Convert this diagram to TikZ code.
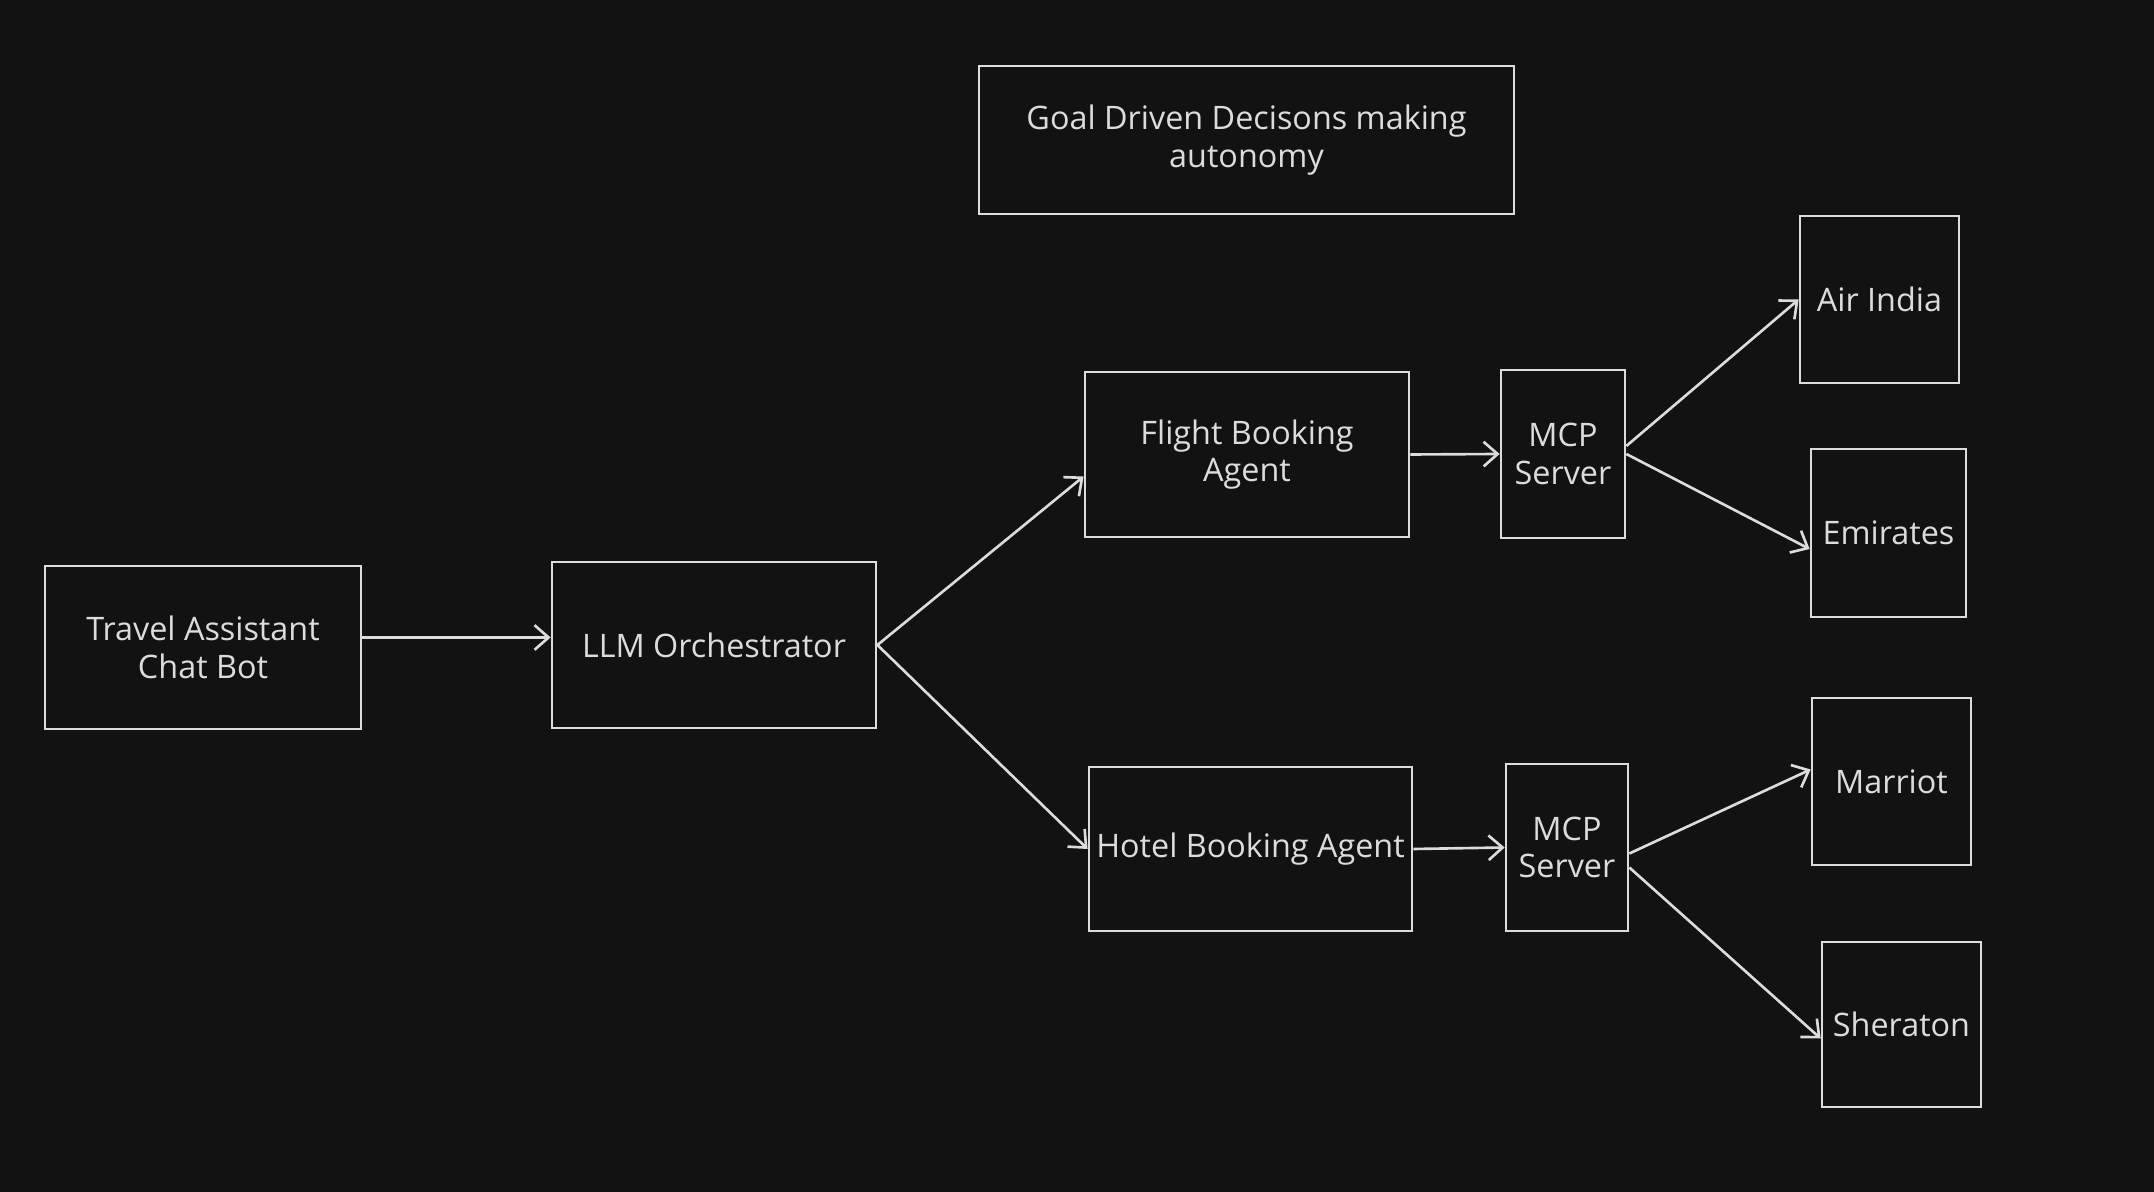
\documentclass[tikz,border=0pt]{standalone}
\usepackage{fontspec}
\setmainfont{Open Sans}
\usetikzlibrary{arrows.meta}
\definecolor{bgdark}{HTML}{121212}
\definecolor{inkgray}{HTML}{DCDCDC}
\begin{document}
\begin{tikzpicture}[x=0.01cm, y=-0.01cm,
    box/.style={draw=inkgray, line width=0.75pt, align=center, text=inkgray,
      font=\fontsize{9.2}{10.6}\selectfont, inner sep=0pt},
    link/.style={draw=inkgray, line width=0.75pt, -{Straight Barb[length=4pt, width=7pt]}}]
        \fill[bgdark] (0,0) rectangle (2154,1192);
        \node[box, minimum width=5.35cm, minimum height=1.48cm] (goal) at (1246.5,140) {Goal Driven Decisons making\\autonomy};
        \node[box, minimum width=3.16cm, minimum height=1.63cm] (travel) at (203,647.5) {Travel Assistant\\Chat Bot};
        \node[box, minimum width=3.24cm, minimum height=1.66cm] (llm) at (714,645) {LLM Orchestrator};
        \node[box, minimum width=3.24cm, minimum height=1.65cm] (flight) at (1247,454.5) {Flight Booking\\Agent};
        \node[box, minimum width=3.23cm, minimum height=1.64cm] (hotel) at (1250.5,849) {Hotel Booking Agent};
        \node[box, minimum width=1.24cm, minimum height=1.68cm] (mcpa) at (1563,454) {MCP\\Server};
        \node[box, minimum width=1.22cm, minimum height=1.67cm] (mcpb) at (1567,847.5) {MCP\\Server};
        \node[box, minimum width=1.59cm, minimum height=1.67cm] (airindia) at (1879.5,299.5) {Air India};
        \node[box, minimum width=1.55cm, minimum height=1.68cm] (emirates) at (1888.5,533) {Emirates};
        \node[box, minimum width=1.59cm, minimum height=1.67cm] (marriot) at (1891.5,781.5) {Marriot};
        \node[box, minimum width=1.59cm, minimum height=1.65cm] (sheraton) at (1901.5,1024.5) {Sheraton};

        \draw[link] ([yshift=1mm]travel.east) -- ([yshift=1mm]travel.east -| llm.west);
        \draw[link] (llm.east) -- ([yshift=-2.2mm]flight.west);
        \draw[link] (llm.east) -- (hotel.west);
        \foreach \a/\b in {flight/mcpa, hotel/mcpb}{
          \draw[link] (\a.east) -- (\b.west);
        }
        \draw[link] ([yshift=0.8mm]mcpa.east) -- (airindia.west);
        \draw[link] (mcpa.east) -- ([yshift=-1.6mm]emirates.west);
        \draw[link] ([yshift=-0.6mm]mcpb.east) -- ([yshift=1.2mm]marriot.west);
        \draw[link] ([yshift=-2mm]mcpb.east) -- ([yshift=-1.4mm]sheraton.west);

      \end{tikzpicture}
\end{document}
